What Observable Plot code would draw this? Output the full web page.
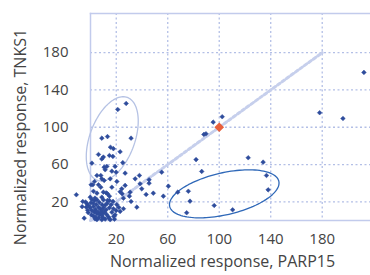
<!DOCTYPE html>
<html><head><meta charset="utf-8">
<script src="https://cdn.jsdelivr.net/npm/d3@7"></script>
<script src="https://cdn.jsdelivr.net/npm/@observablehq/plot@0.6"></script>
<style>body{margin:0;background:#fff}</style>
</head><body><div id="chart"></div>
<script>
// Normalized response, PARP15 (x) vs TNKS1 (y)
const parp15 = [27.7,21.2,31.5,8.8,13.2,15.5,17.8,23,6.2,10,8.8,14.7,17.4,
  1.1,25.1,10.6,12.7,11.4,19.1,16.6,19.9,26.9,5,8,38,34.7,15.3,
  55.3,45.5,45.5,39.8,43.2,48.8,60.5,56.6,31.5,36,67.8,76,77.3,74.7,82,86.4,122.5,134.1,136.7,138,96.1,110.4,178,196.1,212.4,89.7,88.1,95.3,102.3,
  38.5,26.9,30.8,23,24.6,
  -11,-6,-4.9,0.5,1.8,6.2,8,2.3,5,10,12.2,-0.2,1.1,3.1,5,8.8,10,13.2,-2.8,-1.5,-3.3,-0.2,2.3,4.4,6.2,7.5,8.8,10,12.2,1.1,2.9,5,7,8.8,14.7,16.6,17.8,19.9,3.6,5,8.8,11.4,15.3,18.6,
  3.1,8.8,10.6,20.5,16.6,24.3,25.6,30.2,13.2,14.7,14.7,19.1,23,25.6,
  0.3,2,3.8,4.5,6,7.8,9.5,11,12.5,13.8,2.5,4,6.5,9.8,0.8,-1.8,-2.2,3.5,6.8,9,11.5,13,16,17.5,20.5,22,18,14.5,-3.8,-6.5];
const tnks1 = [125.5,119,88.3,88.3,90,78.6,77,73.7,70.8,68,66,69.7,68.7,
  61.5,62,57.2,58,54.4,58,52.9,51.8,50.8,48.3,48.3,48.3,44.7,44.7,
  51.8,43.7,40,34,27.9,29.3,36.8,26.1,20.4,14.3,30.4,31.4,20.7,8.3,65.3,52.6,67.3,62.6,48.3,32.9,16.1,11.5,115.6,109.4,158.8,93,92.3,105.5,111.3,
  39.4,37.6,30.4,30.8,28.6,
  27.6,20.4,2.5,38.3,38.3,38.3,35.7,31.4,29.3,30.4,29.7,25,22.5,21.5,22.2,25,22.2,21.5,17.9,16.1,14.3,13.6,15,17.2,14.3,12.6,10.7,13.6,11.5,10.7,8.9,7.2,6.4,5.4,13.6,8.9,12.6,10.7,1.8,1,0.8,1.5,0.8,1.4,
  41.8,44.7,42.9,41.8,35.7,34,23.9,26.1,28.6,26.1,21.5,6.1,9.7,12.6,
  19,18.5,12,10,9,8,7.5,9,6.5,4,4.5,3.5,3,3,6,8.5,11,24,19.5,17,16.5,18.5,17,20.5,17,14,4.5,2.5,19.8,14.8];
const highlightX = [100];
const highlightY = [100];
const diagonalX = [0, 180];
const diagonalY = [0, 180];
const xTicks = [20, 60, 100, 140, 180];
const yTicks = [20, 60, 100, 140, 180];
// annotation ellipses: centre (data), semi-axes (in x-units), angle of major axis (deg)
const ellipseCx = [16.9, 103.9];
const ellipseCy = [87.6, 28.6];
const ellipseA = [34.2, 43.5];
const ellipseB = [17.5, 16.3];
const ellipseAngle = [70, 13];
const ellipseColor = ["#b5c2e4", "#2f68b8"];

const W = 370, H = 275, mL = 90, mR = 0, mT = 13, mB = 55;
const xDom = [0, 217.5], yDom = [0, 222];
const kx = (W - mL - mR) / (xDom[1] - xDom[0]);
const ky = (H - mT - mB) / (yDom[1] - yDom[0]);

const points = parp15.map((x, i) => ({x, y: tnks1[i]}));
const ellipses = [];
ellipseCx.forEach((cx, k) => {
  const th = ellipseAngle[k] * Math.PI / 180;
  for (let j = 0; j <= 120; j++) {
    const t = j / 120 * 2 * Math.PI;
    const u = ellipseA[k] * Math.cos(t), v = ellipseB[k] * Math.sin(t);
    const dx = u * Math.cos(th) - v * Math.sin(th);
    const dy = (u * Math.sin(th) + v * Math.cos(th)) * kx / ky;
    ellipses.push({id: k, x: cx + dx, y: ellipseCy[k] + dy, c: ellipseColor[k]});
  }
});

const font = "'Open Sans', 'Noto Sans', sans-serif";
const gridColor = "#b3bfe6";
const chart = Plot.plot({
  width: W, height: H,
  marginLeft: mL, marginRight: mR, marginTop: mT, marginBottom: mB,
  style: {fontFamily: font, fontSize: "15px", color: "#444", background: "#fff"},
  x: {domain: xDom, ticks: xTicks},
  y: {domain: yDom, ticks: yTicks},
  marks: [
    Plot.ruleX(xTicks, {stroke: gridColor, strokeWidth: 1.3, strokeDasharray: "2,2.5"}),
    Plot.ruleY(yTicks, {stroke: gridColor, strokeWidth: 1.3, strokeDasharray: "2,2.5"}),
    Plot.frame({anchor: "left", stroke: "#c2cbec", strokeWidth: 1.5}),
    Plot.frame({anchor: "bottom", stroke: "#c2cbec", strokeWidth: 1.5}),
    Plot.frame({anchor: "top", stroke: "#c2cbec", strokeWidth: 1.5}),
    Plot.axisX(xTicks, {tickSize: 0, tickPadding: 13, label: null, fill: "#444", fontSize: 15}),
    Plot.axisY(yTicks, {tickSize: 0, tickPadding: 22, label: null, fill: "#444", fontSize: 15}),
    Plot.line(diagonalX.map((x, i) => ({x, y: diagonalY[i]})), {x: "x", y: "y", stroke: "#c6cfec", strokeWidth: 3, strokeDasharray: "3,2.5"}),
    Plot.line(ellipses, {x: "x", y: "y", z: "id", stroke: "c", strokeWidth: 1.3}),
    Plot.dot(points, {x: "x", y: "y", symbol: "diamond2", r: 2.1, fill: "#2e4c9c", stroke: "#2e4c9c", strokeWidth: 0.5}),
    Plot.dot(highlightX.map((x, i) => ({x, y: highlightY[i]})), {x: "x", y: "y", symbol: "diamond2", r: 3.4, fill: "#e8603c", stroke: "#e8603c"}),
    Plot.text(["Normalized response, PARP15"], {frameAnchor: "bottom", dx: -8, dy: 46, fill: "#444", fontSize: 16}),
    Plot.text(["Normalized response, TNKS1"], {frameAnchor: "left", textAnchor: "middle", rotate: -90, dx: -70, dy: 20, fill: "#444", fontSize: 16})
  ]
});
document.getElementById("chart").appendChild(chart);
</script>
</body></html>
